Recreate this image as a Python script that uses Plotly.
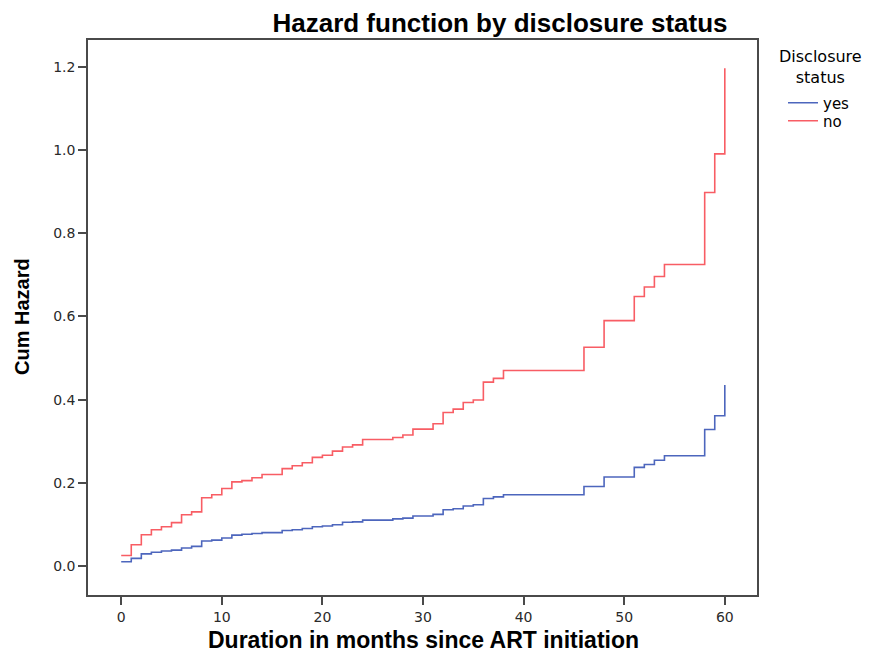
import plotly.graph_objects as go

# Months at which the step functions change
months = [0, 1, 2, 3, 4, 5, 6, 7, 8, 9, 10, 11, 12, 13, 14, 16, 17, 18, 19, 20, 21, 22, 23, 24,
          27, 28, 29, 31, 32, 33, 34, 35, 36, 37, 38, 46, 48, 51, 52, 53, 54, 58, 59, 60]

cum_hazard_yes = [0.010, 0.018, 0.029, 0.033, 0.036, 0.038, 0.043, 0.047, 0.060, 0.062,
                  0.067, 0.074, 0.076, 0.078, 0.080, 0.085, 0.087, 0.090, 0.094, 0.096,
                  0.099, 0.105, 0.106, 0.110, 0.113, 0.115, 0.120, 0.124, 0.135, 0.1375,
                  0.144, 0.147, 0.162, 0.166, 0.171, 0.191, 0.214, 0.237, 0.244, 0.254,
                  0.265, 0.328, 0.361, 0.435]

cum_hazard_no = [0.025, 0.051, 0.075, 0.087, 0.094, 0.104, 0.123, 0.130, 0.164, 0.171,
                 0.186, 0.202, 0.205, 0.212, 0.220, 0.234, 0.241, 0.248, 0.261, 0.266,
                 0.276, 0.286, 0.291, 0.304, 0.309, 0.315, 0.329, 0.342, 0.369, 0.377,
                 0.393, 0.399, 0.442, 0.451, 0.470, 0.526, 0.590, 0.648, 0.671, 0.696,
                 0.725, 0.898, 0.991, 1.197]

x_ticks = [0, 10, 20, 30, 40, 50, 60]
y_ticks = [0.0, 0.2, 0.4, 0.6, 0.8, 1.0, 1.2]
y_tick_labels = ["0.0", "0.2", "0.4", "0.6", "0.8", "1.0", "1.2"]

font_main = "Liberation Sans, Arial, sans-serif"
font_small = "DejaVu Sans, Verdana, sans-serif"

fig = go.Figure()
fig.add_trace(go.Scatter(x=months, y=cum_hazard_yes, mode="lines", name="yes",
                         legend="legend",
                         line=dict(color="#4d66bd", width=1.6, shape="hv")))
fig.add_trace(go.Scatter(x=months, y=cum_hazard_no, mode="lines", name="no",
                         legend="legend2",
                         line=dict(color="#f85d64", width=1.6, shape="hv")))

axis_common = dict(showline=True, mirror=True, linecolor="#4a4a4a", linewidth=1.5,
                   ticks="outside", ticklen=8, tickwidth=1.5, tickcolor="#4a4a4a",
                   showgrid=False, zeroline=False,
                   tickfont=dict(family=font_small, size=14, color="#2a2a2a"))

legend_common = dict(xanchor="left", yanchor="middle", bgcolor="rgba(0,0,0,0)",
                     font=dict(family=font_small, size=15, color="black"))

fig.update_layout(
    width=870, height=654,
    margin=dict(l=88, r=113, t=40, b=59),
    paper_bgcolor="white", plot_bgcolor="white",
    title=dict(text="<b>Hazard function by disclosure status</b>",
               x=500 / 870, y=1 - 23 / 654, xref="container", yref="container",
               xanchor="center", yanchor="middle",
               font=dict(family=font_main, size=26, color="black")),
    xaxis=dict(range=[-3.3, 63.2], tickvals=x_ticks, **axis_common),
    yaxis=dict(range=[-0.07, 1.265], tickvals=y_ticks, ticktext=y_tick_labels, **axis_common),
    legend=dict(x=(783 - 88) / 669, y=(595 - 103) / 555, **legend_common),
    legend2=dict(x=(783 - 88) / 669, y=(595 - 121) / 555, **legend_common),
    showlegend=True,
    annotations=[
        dict(text="Disclosure<br>status", xref="paper", yref="paper",
             x=(820 - 88) / 669, y=(595 - 67) / 555, xanchor="center", yanchor="middle",
             align="center", showarrow=False,
             font=dict(family=font_small, size=16, color="black")),
        dict(text="<b>Duration in months since ART initiation</b>", xref="paper", yref="paper",
             x=(423 - 88) / 669, y=0, yshift=-45, xanchor="center", yanchor="middle",
             showarrow=False,
             font=dict(family=font_main, size=23, color="black")),
        dict(text="<b>Cum Hazard</b>", xref="paper", yref="paper", textangle=-90,
             x=0, y=(595 - 317) / 555, xshift=-66, xanchor="center", yanchor="middle",
             showarrow=False,
             font=dict(family=font_main, size=20, color="black")),
    ],
)

fig.write_html("out.html")
